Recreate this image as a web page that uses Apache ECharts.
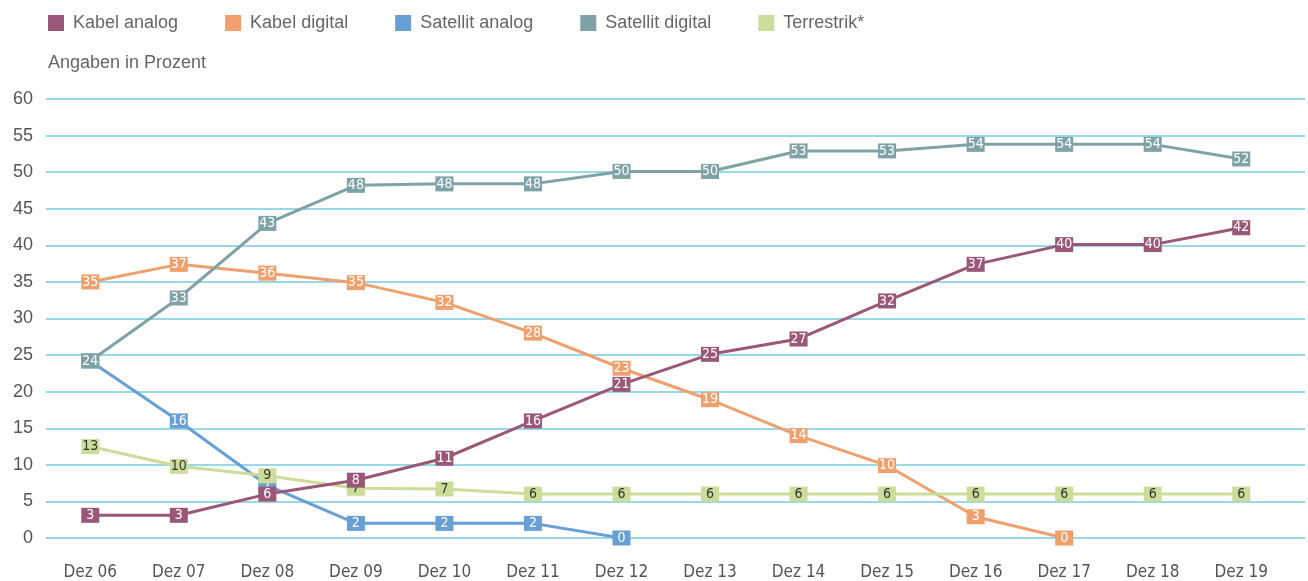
<!DOCTYPE html>
<html>
<head>
<meta charset="utf-8">
<script src="https://cdn.jsdelivr.net/npm/echarts@6/dist/echarts.min.js"></script>
<style>
  html, body { margin: 0; padding: 0; background: #fff; }
  #chart { width: 1308px; height: 581px; }
</style>
</head>
<body>
<div id="chart"></div>
<script>
// categories and values
const categories = ['Dez 06', 'Dez 07', 'Dez 08', 'Dez 09', 'Dez 10', 'Dez 11', 'Dez 12',
  'Dez 13', 'Dez 14', 'Dez 15', 'Dez 16', 'Dez 17', 'Dez 18', 'Dez 19']
const kabelAnalog = [3.1, 3.1, 6.0, 7.9, 10.9, 16.0, 21.0, 25.1, 27.2, 32.4, 37.4, 40.1, 40.1, 42.4]
const kabelDigital = [35.0, 37.4, 36.2, 34.9, 32.2, 28.0, 23.2, 18.9, 14.0, 9.9, 2.9, 0, null, null]
const satellitAnalog = [24.2, 16.0, 7.2, 2.0, 2.0, 2.0, 0, null, null, null, null, null, null, null]
const satellitDigital = [24.2, 32.8, 43.0, 48.2, 48.4, 48.4, 50.1, 50.1, 52.9, 52.9, 53.8, 53.8, 53.8, 51.8]
const terrestrik = [12.5, 9.8, 8.5, 6.8, 6.7, 6.0, 6.0, 6.0, 6.0, 6.0, 6.0, 6.0, 6.0, 6.0]
const yTicks = [0, 60, 5] // min, max, step

const labelFont = '"Liberation Sans Narrow", "DejaVu Sans Condensed", sans-serif'
const mainFont = '"Liberation Sans", Arial, sans-serif'

function makeSeries(name, values, color, textColor, z) {
  return {
    name: name,
    type: 'line',
    z: z,
    data: values.map((v, i) => [i, v]),
    connectNulls: false,
    symbol: 'rect',
    symbolSize: [18, 15],
    showAllSymbol: true,
    itemStyle: { color: color },
    lineStyle: { color: color, width: 3 },
    label: {
      show: true,
      position: 'inside',
      color: textColor,
      fontFamily: labelFont,
      fontSize: 14,
      formatter: (p) => Math.round(p.value[1])
    },
    emphasis: { disabled: true },
    animation: false
  }
}

const chart = echarts.init(document.getElementById('chart'))
chart.setOption({
  backgroundColor: '#fff',
  title: {
    text: 'Angaben in Prozent',
    left: 43,
    top: 49,
    textStyle: { fontFamily: mainFont, fontSize: 18, fontWeight: 'normal', color: '#666' }
  },
  legend: {
    left: 43,
    top: 9,
    icon: 'rect',
    itemWidth: 16,
    itemHeight: 16,
    itemGap: 47,
    data: ['Kabel analog', 'Kabel digital', 'Satellit analog', 'Satellit digital', 'Terrestrik*'],
    textStyle: { fontFamily: mainFont, fontSize: 18, color: '#666', padding: [0, 0, 0, 4] }
  },
  grid: { left: 46, right: 3, top: 99, bottom: 43 },
  xAxis: {
    type: 'value',
    min: -0.5,
    max: 13.72,
    axisLine: { show: false },
    axisTick: { show: false },
    splitLine: { show: false },
    axisLabel: {
      customValues: categories.map((c, i) => i),
      formatter: (v) => categories[v],
      margin: 26,
      fontFamily: labelFont,
      fontSize: 17,
      color: '#555'
    }
  },
  yAxis: {
    type: 'value',
    min: yTicks[0],
    max: yTicks[1],
    interval: yTicks[2],
    axisLine: { show: false },
    axisTick: { show: false },
    axisLabel: { margin: 13, fontFamily: mainFont, fontSize: 18, color: '#555' },
    splitLine: { lineStyle: { color: '#74cce2', width: 1.5 } }
  },
  series: [
    makeSeries('Satellit analog', satellitAnalog, '#689fd5', '#fff', 2),
    makeSeries('Kabel digital', kabelDigital, '#f0a06c', '#fff', 3),
    makeSeries('Terrestrik*', terrestrik, '#cbdd98', '#333', 4),
    makeSeries('Satellit digital', satellitDigital, '#7fa2a7', '#fff', 5),
    makeSeries('Kabel analog', kabelAnalog, '#9b5777', '#fff', 6)
  ]
})
</script>
</body>
</html>
